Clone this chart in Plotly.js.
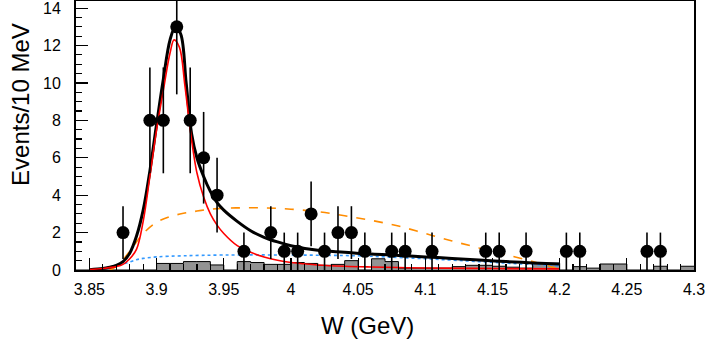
<!DOCTYPE html>
<html>
<head>
<meta charset="utf-8">
<script src="https://cdn.plot.ly/plotly-3.0.1.min.js"></script>
<style>html,body{margin:0;padding:0;background:#fff;}#chart{width:707px;height:342px;}</style>
</head>
<body>
<div id="chart"></div>
<script>
// Data points (bin centres, GeV), counts and errors
const dataX = [3.875, 3.895, 3.905, 3.915, 3.925, 3.935, 3.945, 3.965, 3.985, 3.995, 4.005, 4.015, 4.025, 4.035, 4.045, 4.055, 4.075, 4.085, 4.105, 4.145, 4.155, 4.175, 4.205, 4.215, 4.265, 4.275];
const dataY = [2, 8, 8, 13, 8, 6, 4, 1, 2, 1, 1, 3, 1, 2, 2, 1, 1, 1, 1, 1, 1, 1, 1, 1, 1, 1];
const dataErr = [1.41, 2.83, 2.83, 3.61, 2.83, 2.45, 2.0, 1.0, 1.41, 1.0, 1.0, 1.73, 1.0, 1.41, 1.41, 1.0, 1.0, 1.0, 1.0, 1.0, 1.0, 1.0, 1.0, 1.0, 1.0, 1.0];

// Background histogram (10 MeV bins)
const histEdges = [3.84, 3.85, 3.86, 3.87, 3.88, 3.89, 3.90, 3.91, 3.92, 3.93, 3.94, 3.95, 3.96, 3.97, 3.98, 3.99, 4.00, 4.01, 4.02, 4.03, 4.04, 4.05, 4.06, 4.07, 4.08, 4.09, 4.10, 4.11, 4.12, 4.13, 4.14, 4.15, 4.16, 4.17, 4.18, 4.19, 4.20, 4.21, 4.22, 4.23, 4.24, 4.25, 4.26, 4.27, 4.28, 4.29, 4.30];
const histVals = [0, 0, 0, 0, 0, 0, 0.35, 0.35, 0.45, 0.45, 0.27, 0, 0.45, 0.4, 0.3, 0.3, 0.4, 0.35, 0.25, 0.3, 0.5, 0, 0.6, 0.45, 0.1, 0.1, 0.1, 0.1, 0.18, 0.25, 0.25, 0.2, 0.15, 0.1, 0.36, 0.36, 0, 0.18, 0.1, 0.32, 0.32, 0, 0, 0.2, 0, 0.2];

// Total fit (black)
const totX = [3.85, 3.86, 3.865, 3.87, 3.875, 3.88, 3.885, 3.89, 3.895, 3.9, 3.905, 3.91, 3.914, 3.918, 3.922, 3.926, 3.93, 3.935, 3.94, 3.945, 3.95, 3.96, 3.97, 3.98, 3.99, 4.0, 4.02, 4.04, 4.06, 4.08, 4.1, 4.12, 4.14, 4.16, 4.18, 4.2];
const totY = [0.02, 0.08, 0.15, 0.25, 0.45, 0.9, 1.8, 3.2, 5.3, 7.8, 10.2, 12.3, 13.0, 12.6, 10.0, 7.3, 6.0, 5.0, 4.2, 3.6, 3.2, 2.6, 2.1, 1.75, 1.5, 1.3, 1.05, 0.95, 0.85, 0.78, 0.7, 0.62, 0.53, 0.45, 0.38, 0.32];

// Signal (red)
const sigX = [3.85, 3.86, 3.87, 3.875, 3.88, 3.885, 3.89, 3.895, 3.9, 3.905, 3.91, 3.913, 3.917, 3.921, 3.925, 3.93, 3.935, 3.94, 3.945, 3.95, 3.96, 3.97, 3.98, 3.99, 4.0, 4.02, 4.04, 4.06, 4.08, 4.1, 4.15, 4.2];
const sigY = [0.03, 0.08, 0.18, 0.3, 0.6, 1.1, 2.6, 5.0, 7.5, 9.6, 11.6, 12.3, 11.9, 9.9, 7.5, 5.2, 3.9, 3.0, 2.4, 1.95, 1.3, 0.95, 0.7, 0.52, 0.4, 0.27, 0.2, 0.16, 0.13, 0.11, 0.08, 0.06];

// Alternative shape (orange dashed)
const altX = [3.865, 3.87, 3.875, 3.88, 3.885, 3.89, 3.9, 3.91, 3.92, 3.93, 3.94, 3.95, 3.96, 3.97, 3.98, 3.99, 4.0, 4.02, 4.04, 4.06, 4.08, 4.1, 4.12, 4.14, 4.16, 4.18, 4.19, 4.2];
const altY = [0.0, 0.18, 0.55, 1.0, 1.5, 1.95, 2.55, 2.85, 3.03, 3.15, 3.25, 3.3, 3.32, 3.33, 3.32, 3.3, 3.25, 3.12, 2.9, 2.65, 2.35, 1.95, 1.55, 1.18, 0.82, 0.45, 0.25, 0.03];

// Background fit (blue dotted)
const bkgX = [3.85, 3.86, 3.865, 3.87, 3.877, 3.885, 3.89, 3.9, 3.92, 3.95, 4.0, 4.05, 4.07, 4.1, 4.14, 4.17, 4.2];
const bkgY = [0.0, 0.04, 0.09, 0.2, 0.36, 0.55, 0.62, 0.7, 0.76, 0.8, 0.8, 0.76, 0.7, 0.6, 0.45, 0.33, 0.22];

const xTicks = [3.85, 3.9, 3.95, 4.0, 4.05, 4.1, 4.15, 4.2, 4.25, 4.3];
const xTickText = ['3.85', '3.9', '3.95', '4', '4.05', '4.1', '4.15', '4.2', '4.25', '4.3'];
const yTicks = [0, 2, 4, 6, 8, 10, 12, 14];

const histX = histEdges.slice();
const histY = histVals.concat([histVals[histVals.length - 1]]);

const traces = [
  {x: histX, y: histY, type: 'scatter', mode: 'lines', line: {shape: 'hv', color: '#000', width: 1}, fill: 'tozeroy', fillcolor: '#939393', hoverinfo: 'skip'},
  {x: bkgX, y: bkgY, type: 'scatter', mode: 'lines', line: {color: '#3399ff', width: 1.6, dash: 'dot', shape: 'spline'}},
  {x: altX, y: altY, type: 'scatter', mode: 'lines', line: {color: '#ff8c00', width: 1.6, dash: 'dash', shape: 'spline'}},
  {x: totX, y: totY, type: 'scatter', mode: 'lines', line: {color: '#000', width: 3, shape: 'spline'}},
  {x: sigX, y: sigY, type: 'scatter', mode: 'lines', line: {color: '#ff0000', width: 1.6, shape: 'spline'}},
  {x: dataX, y: dataY, type: 'scatter', mode: 'markers', marker: {color: '#000', size: 13, symbol: 'circle'},
   error_y: {type: 'data', array: dataErr, visible: true, color: '#000', thickness: 1.6, width: 0}, cliponaxis: true}
];

const font = 'Liberation Sans, Arial, Helvetica, sans-serif';
const layout = {
  width: 707, height: 342,
  margin: {l: 76, r: 13, t: 1, b: 72},
  paper_bgcolor: '#fff', plot_bgcolor: '#fff',
  showlegend: false,
  font: {family: font, color: '#000', size: 16},
  xaxis: {
    range: [3.84, 4.3], tickvals: xTicks, ticktext: xTickText,
    ticks: 'inside', ticklen: 12, tickwidth: 1.2, tickcolor: '#000',
    minor: {dtick: 0.01, tick0: 3.84, ticks: 'inside', ticklen: 6, tickwidth: 1.2, tickcolor: '#000', showgrid: false},
    showline: true, linewidth: 2, linecolor: '#000', mirror: true,
    showgrid: false, zeroline: false, tickfont: {size: 16, family: font}, ticklabelstandoff: 4,
    ticklabeloverflow: 'allow'
  },
  yaxis: {
    range: [0, 14.38], tickvals: yTicks,
    ticks: 'inside', ticklen: 12, tickwidth: 1.2, tickcolor: '#000',
    minor: {dtick: 0.5, tick0: 0, ticks: 'inside', ticklen: 6, tickwidth: 1.2, tickcolor: '#000', showgrid: false},
    showline: true, linewidth: 2, linecolor: '#000', mirror: true,
    showgrid: false, zeroline: false, tickfont: {size: 16, family: font}, ticklabelstandoff: 10,
    ticklabeloverflow: 'allow'
  },
  annotations: [
    {text: 'Events/10 MeV', xref: 'paper', yref: 'paper', x: -0.09, y: 0.615, textangle: -90, showarrow: false, font: {size: 24, family: font}, xanchor: 'center', yanchor: 'middle'},
    {text: 'W (GeV)', xref: 'paper', yref: 'paper', x: 0.471, y: -0.205, showarrow: false, font: {size: 24, family: font}, xanchor: 'center', yanchor: 'middle'}
  ]
};

Plotly.newPlot('chart', traces, layout, {displayModeBar: false, staticPlot: true});
</script>
</body>
</html>
